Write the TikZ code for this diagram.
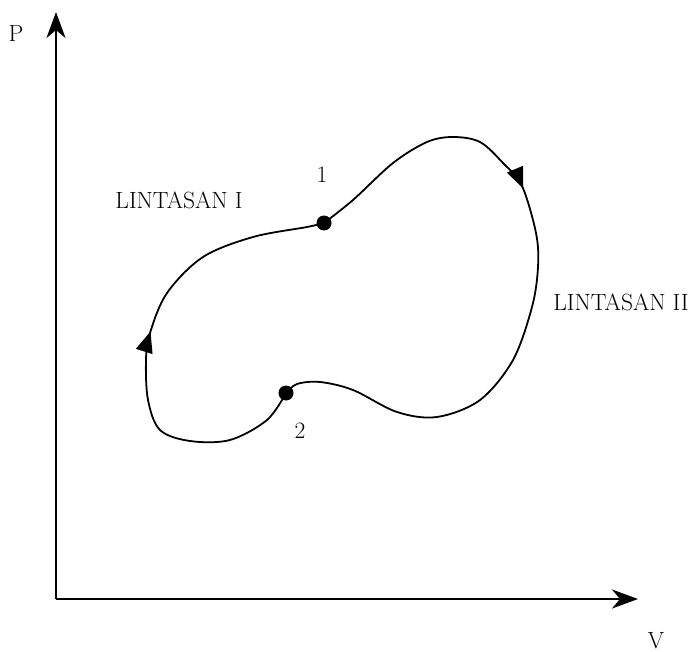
\documentclass[tikz,border=0pt]{standalone}
\usepackage{fontspec}
\usetikzlibrary{arrows.meta,decorations.markings}
\begin{document}
\begin{tikzpicture}[x=1pt,y=-1pt,
  axis/.style={line width=2.2pt,-{Stealth[length=26pt,width=19pt,inset=8pt]}},
  pathline/.style={line width=1.8pt},
  dotnode/.style={circle,fill=black,inner sep=0pt,minimum size=15pt},
  lbl/.style={font=\fontsize{23.5}{27}\selectfont,inner sep=0pt},
  flow/.style={postaction={decorate},decoration={markings,
     mark=at position #1 with {\arrow{Triangle[length=21pt,width=17pt]}}}}
]
\useasboundingbox (0,0) rectangle (695,652);

% axes
\coordinate (O) at (56,599);
\coordinate (ytip) at (56,12);
\coordinate (xtip) at (638,599);
\draw[axis] (O) -- (ytip);
\draw[axis] (O) -- (xtip);
\node[lbl] (P) at (16,33) {P};
\node[lbl] (V) at (656,641) {V};

% states
\node[dotnode] (p1) at (324,223) {};
\node[dotnode] (p2) at (286,393) {};
\node[lbl] (l1) at (322,175) {1};
\node[lbl] (l2) at (300,431) {2};

% Lintasan II : 1 -> 2 (right)
\draw[pathline,flow=250pt] plot[smooth,tension=0.55] coordinates {
  (p1.center) (353,200) (393,163) (427,142) (453,137) (480,142) (503,163)
  (522,186) (536,233) (538,267) (532,307) (513,360) (480,400) (437,417)
  (397,412) (353,390) (320,382) (297,384) (p2.center)};

% Lintasan I : 2 -> 1 (left)
\draw[pathline,flow=250pt] plot[smooth,tension=0.55] coordinates {
  (p2.center) (267,420) (230,440) (190,441) (160,430) (148,400) (146,360)
  (150,333) (167,293) (203,257) (253,237) (307,227) (p1.center)};

\node[lbl] (lin1) at (179,200) {LINTASAN I};
\node[lbl] (lin2) at (621,302) {LINTASAN II};
\end{tikzpicture}
\end{document}
